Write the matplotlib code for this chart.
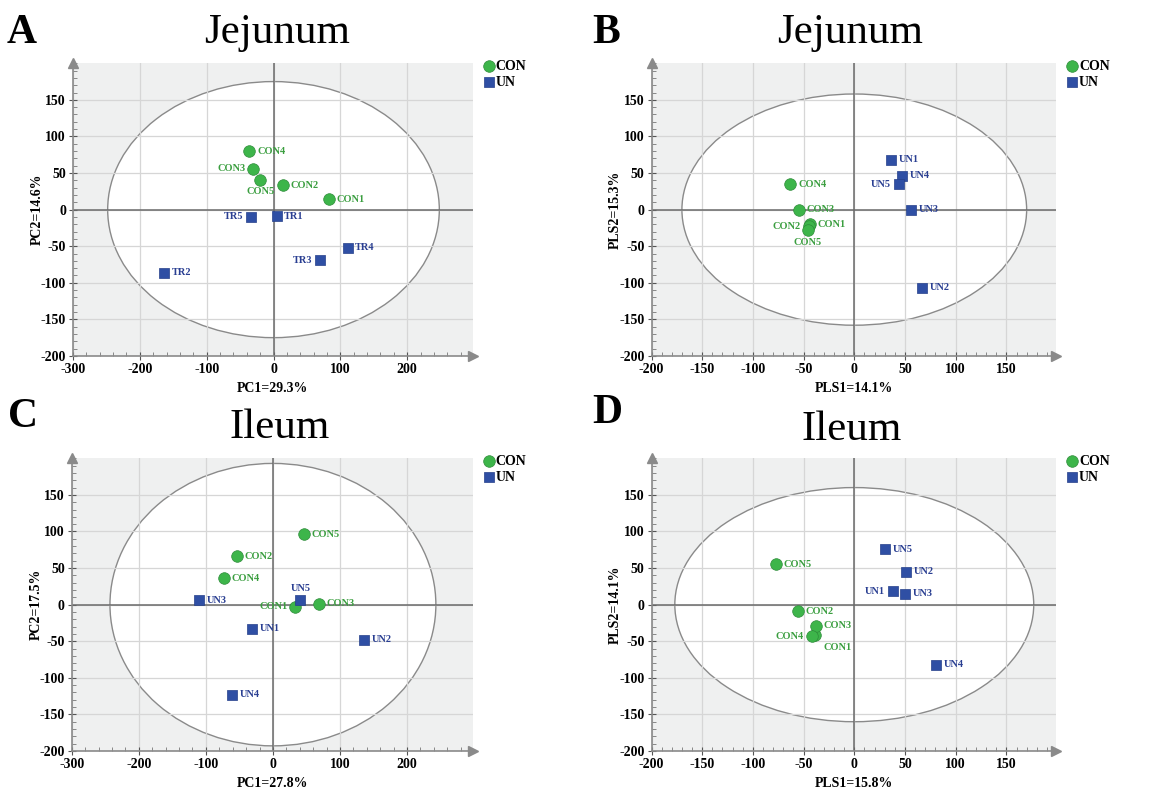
import matplotlib
matplotlib.use("Agg")
import matplotlib.pyplot as plt
from matplotlib.patches import Ellipse
from matplotlib.ticker import MultipleLocator

plt.rcParams['font.family'] = ['Liberation Serif', 'DejaVu Serif']
plt.rcParams['axes.unicode_minus'] = False

# Panel A : Jejunum PCA
a_con_x = [83, 14, -30, -36, -20]
a_con_y = [14, 33, 56, 80, 41]
a_con_lab = ['CON1', 'CON2', 'CON3', 'CON4', 'CON5']
a_con_pos = ['r', 'r', 'l', 'r', 'b']
a_un_x = [4.5, -164, 69, 111, -34]
a_un_y = [-9, -86, -69, -52, -10]
a_un_lab = ['TR1', 'TR2', 'TR3', 'TR4', 'TR5']
a_un_pos = ['r', 'r', 'l', 'r', 'l']

# Panel B : Jejunum PLS-DA
b_con_x = [-44, -45, -55, -63, -46]
b_con_y = [-20, -23, 0, 35, -28]
b_con_lab = ['CON1', 'CON2', 'CON3', 'CON4', 'CON5']
b_con_pos = ['r', 'l', 'r', 'r', 'b']
b_un_x = [36, 67, 56, 47, 44]
b_un_y = [68, -107, 0, 46, 35]
b_un_lab = ['UN1', 'UN2', 'UN3', 'UN4', 'UN5']
b_un_pos = ['r', 'r', 'r', 'r', 'l']

# Panel C : Ileum PCA
c_con_x = [33, -54, 68, -73, 46]
c_con_y = [-3, 66, 1, 36, 96]
c_con_lab = ['CON1', 'CON2', 'CON3', 'CON4', 'CON5']
c_con_pos = ['l', 'r', 'r', 'r', 'r']
c_un_x = [-31, 136, -110, -61, 41]
c_un_y = [-33, -48, 6, -123, 6]
c_un_lab = ['UN1', 'UN2', 'UN3', 'UN4', 'UN5']
c_un_pos = ['r', 'r', 'r', 'r', 't']

# Panel D : Ileum PLS-DA
d_con_x = [-39, -56, -38, -42, -77]
d_con_y = [-41, -9, -29, -43, 55]
d_con_lab = ['CON1', 'CON2', 'CON3', 'CON4', 'CON5']
d_con_pos = ['br', 'r', 'r', 'l', 'r']
d_un_x = [38, 51, 50, 81, 30]
d_un_y = [18, 45, 15, -82, 76]
d_un_lab = ['UN1', 'UN2', 'UN3', 'UN4', 'UN5']
d_un_pos = ['l', 'r', 'r', 'r', 'r']

green = '#3db54a'
green_txt = '#3a9e3f'
blue = '#2f4fa4'
blue_txt = '#2a3f92'

offsets = {'r': (5.5, 0, 'left', 'center'),
           'l': (-5.5, 0, 'right', 'center'),
           'b': (0, -5.5, 'center', 'top'),
           't': (0, 5.5, 'center', 'bottom'),
           'br': (6, -6, 'left', 'top')}

W, H = 1176, 791


def panel(rect, letter, lpos, title, tpos, xlab, ylab, xlim, xstep, xminor, ell,
          cx, cy, clab, cpos, ux, uy, ulab, upos):
    ax = fig.add_axes(rect)
    ax.set_facecolor('#eff0f0')
    ax.set_xlim(*xlim)
    ax.set_ylim(-200, 200)
    ax.add_patch(Ellipse((0, 0), 2 * ell[0], 2 * ell[1], facecolor='white',
                         edgecolor='#8a8a8a', lw=1.0, zorder=0.2))
    ax.set_axisbelow(True)
    ax.xaxis.set_major_locator(MultipleLocator(xstep))
    ax.xaxis.set_minor_locator(MultipleLocator(xminor))
    ax.yaxis.set_major_locator(MultipleLocator(50))
    ax.yaxis.set_minor_locator(MultipleLocator(10))
    ax.grid(True, which='major', color='#d6d6d6', lw=0.9)
    ax.axhline(0, color='#6a6a6a', lw=1.1, zorder=1)
    ax.axvline(0, color='#6a6a6a', lw=1.1, zorder=1)
    for s in ['top', 'right']:
        ax.spines[s].set_visible(False)
    for s in ['left', 'bottom']:
        ax.spines[s].set_color('#8a8a8a')
        ax.spines[s].set_linewidth(1.2)
    ax.plot(1, 0, '>', color='#8a8a8a', ms=7, transform=ax.transAxes, clip_on=False)
    ax.plot(0, 1, '^', color='#8a8a8a', ms=7, transform=ax.transAxes, clip_on=False)
    ax.tick_params(which='major', direction='inout', length=6, color='#555555',
                   labelsize=10, pad=2)
    ax.tick_params(which='minor', direction='in', length=3, color='#777777')
    xt = [t for t in range(int(xlim[0]), int(xlim[1]), xstep)]
    ax.set_xticks(xt)
    ax.set_yticks([-200, -150, -100, -50, 0, 50, 100, 150])
    for lab in ax.get_xticklabels() + ax.get_yticklabels():
        lab.set_fontweight('bold')
    ax.set_xlabel(xlab, fontsize=10, fontweight='bold')
    ax.set_ylabel(ylab, fontsize=10, fontweight='bold')
    ax.xaxis.set_label_coords(0.5, -0.09)
    ax.yaxis.set_label_coords(-0.073, 0.5)

    ax.scatter(cx, cy, s=70, marker='o', color=green, edgecolor='#2e8b3a',
               lw=0.5, zorder=3)
    ax.scatter(ux, uy, s=58, marker='s', color=blue, edgecolor='#25408a',
               lw=0.5, zorder=3)
    for x, y, t, p in zip(cx, cy, clab, cpos):
        dx, dy, ha, va = offsets[p]
        ax.annotate(t, (x, y), xytext=(dx, dy), textcoords='offset points',
                    ha=ha, va=va, fontsize=7.5, fontweight='bold', color=green_txt,
                    zorder=4)
    for x, y, t, p in zip(ux, uy, ulab, upos):
        dx, dy, ha, va = offsets[p]
        ax.annotate(t, (x, y), xytext=(dx, dy), textcoords='offset points',
                    ha=ha, va=va, fontsize=7.5, fontweight='bold', color=blue_txt,
                    zorder=4)

    # legend
    ax.scatter([1.04], [0.99], s=70, marker='o', color=green, edgecolor='#2e8b3a',
               lw=0.5, transform=ax.transAxes, clip_on=False)
    ax.scatter([1.04], [0.935], s=55, marker='s', color=blue, edgecolor='#25408a',
               lw=0.5, transform=ax.transAxes, clip_on=False)
    ax.text(1.057, 0.99, 'CON', transform=ax.transAxes, fontsize=10,
            fontweight='bold', va='center', ha='left')
    ax.text(1.057, 0.935, 'UN', transform=ax.transAxes, fontsize=10,
            fontweight='bold', va='center', ha='left')

    fig.text(tpos[0] / W, 1 - tpos[1] / H, title, fontsize=31,
             ha='center', va='baseline')
    fig.text(lpos[0] / W, 1 - lpos[1] / H, letter, fontsize=30,
             fontweight='bold', ha='left', va='baseline')
    return ax


fig = plt.figure(figsize=(11.76, 7.91), dpi=100)
fig.patch.set_facecolor('white')

panel([0.062, 0.550, 0.340, 0.370], 'A', (7, 43), 'Jejunum', (277, 43),
      'PC1=29.3%', 'PC2=14.6%',
      (-300, 298), 100, 20, (248, 175),
      a_con_x, a_con_y, a_con_lab, a_con_pos, a_un_x, a_un_y, a_un_lab, a_un_pos)
panel([0.554, 0.550, 0.344, 0.370], 'B', (592, 43), 'Jejunum', (850, 43),
      'PLS1=14.1%', 'PLS2=15.3%',
      (-200, 199), 50, 10, (170, 158),
      b_con_x, b_con_y, b_con_lab, b_con_pos, b_un_x, b_un_y, b_un_lab, b_un_pos)
panel([0.061, 0.0506, 0.341, 0.370], 'C', (8, 427), 'Ileum', (280, 438),
      'PC1=27.8%', 'PC2=17.5%',
      (-300, 298), 100, 20, (243, 193),
      c_con_x, c_con_y, c_con_lab, c_con_pos, c_un_x, c_un_y, c_un_lab, c_un_pos)
panel([0.554, 0.0506, 0.344, 0.370], 'D', (592, 423), 'Ileum', (852, 440),
      'PLS1=15.8%', 'PLS2=14.1%',
      (-200, 199), 50, 10, (177, 160),
      d_con_x, d_con_y, d_con_lab, d_con_pos, d_un_x, d_un_y, d_un_lab, d_un_pos)

fig.savefig('out.png', dpi=100)
